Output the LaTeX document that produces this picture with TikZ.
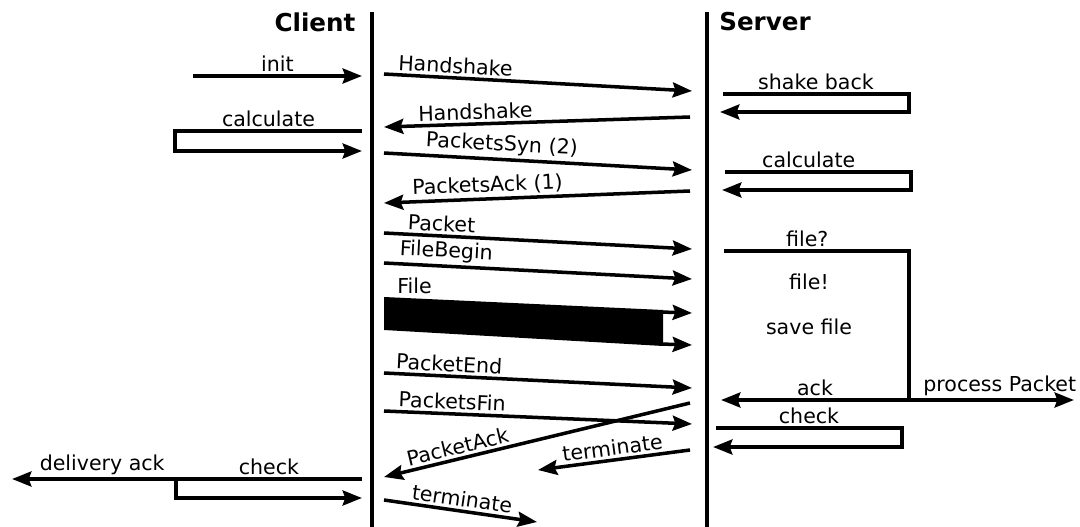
\documentclass[tikz,border=0pt]{standalone}
\usepackage{fontspec}
\setmainfont{DejaVu Sans}
\usepackage{tikz}
\usetikzlibrary{arrows.meta,positioning}

\newcommand{\lblfont}{\fontsize{11.7}{13}\selectfont}
\newcommand{\headfont}{\fontsize{14}{16}\selectfont\bfseries}

\begin{document}
\begin{tikzpicture}[x=0.02cm, y=-0.02cm,
		msg/.style={line width=2pt, -{Stealth[length=11pt,width=8.5pt,inset=1.5pt]}},
		loopline/.style={line width=2pt},
		life/.style={line width=2.8pt},
		lbl/.style={font=\lblfont, inner sep=1.5pt},
		head/.style={font=\headfont, inner sep=0pt}]
	\useasboundingbox (0,0) rectangle (1080,527);

	% lifelines
	\node[head] (client) at (315,22) {Client};
	\node[head] (server) at (765,22) {Server};
	\coordinate (ctop) at (372,12);
	\coordinate (cbot) at (372,530);
	\coordinate (stop) at (707,12);
	\coordinate (sbot) at (707,530);
	\draw[life] (ctop) -- (cbot);
	\draw[life] (stop) -- (sbot);

	% client side, left
	\coordinate (i1) at (193,76);
	\coordinate (i2) at (362,76);
	\draw[msg] (i1) -- node[lbl, above] {init} (i2);

	\coordinate (cc1) at (362,131);
	\coordinate (cc2) at (175,131);
	\coordinate (cc3) at (175,151);
	\coordinate (cc4) at (362,151);
	\draw[msg] (cc1) -- node[lbl, above] {calculate} (cc2) -- (cc3) -- (cc4);

	\coordinate (k1) at (362,479);
	\coordinate (kb) at (176,479);
	\coordinate (k3) at (12,479);
	\coordinate (kc) at (176,498);
	\coordinate (kd) at (362,498);
	\draw[msg] (k1) -- node[lbl, above] {check} (kb) -- node[lbl, above, pos=0.45] {delivery ack} (k3);
	\draw[msg] (kb) -- (kc) -- (kd);

	% messages between client and server
	\coordinate (h1a) at (384,74);
	\coordinate (h1b) at (692,91);
	\draw[msg] (h1a) -- node[lbl, above, sloped, pos=0.23] {Handshake} (h1b);

	\coordinate (h2a) at (690,117);
	\coordinate (h2b) at (384,127);
	\draw[msg] (h2a) -- node[lbl, above, sloped, pos=0.70] {Handshake} (h2b);

	\coordinate (psa) at (384,153);
	\coordinate (psb) at (692,170);
	\draw[msg] (psa) -- node[lbl, above, sloped, pos=0.38] {PacketsSyn (2)} (psb);

	\coordinate (paa) at (690,191);
	\coordinate (pab) at (384,203);
	\draw[msg] (paa) -- node[lbl, above, sloped, pos=0.66] {PacketsAck (1)} (pab);

	\coordinate (pa) at (384,233);
	\coordinate (pb) at (692,249);
	\draw[msg] (pa) -- node[lbl, above, sloped, pos=0.185] {Packet} (pb);

	\coordinate (fba) at (384,263);
	\coordinate (fbb) at (692,279);
	\draw[msg] (fba) -- node[lbl, above, sloped, pos=0.2] {FileBegin} (fbb);

	% the file itself
	\coordinate (fa) at (384,297);
	\coordinate (fb) at (663,310);
	\coordinate (fc) at (663,346);
	\coordinate (fd) at (384,330);
	\fill (fa) -- (fb) -- (fc) -- (fd) -- cycle;
	\node[lbl, anchor=base west, inner sep=0pt] (filelbl) at (397,294) {File};
	\coordinate (fe) at (660,312);
	\coordinate (ff) at (692,313);
	\coordinate (fg) at (660,344);
	\coordinate (fh) at (692,345);
	\draw[msg] (fe) -- (ff);
	\draw[msg] (fg) -- (fh);

	\coordinate (pea) at (384,373);
	\coordinate (peb) at (692,388);
	\draw[msg] (pea) -- node[lbl, above, sloped, pos=0.21] {PacketEnd} (peb);

	\coordinate (pfa) at (384,411);
	\coordinate (pfb) at (692,424);
	\draw[msg] (pfa) -- node[lbl, above, sloped, pos=0.22] {PacketsFin} (pfb);

	\coordinate (aka) at (690,403);
	\coordinate (akb) at (384,477);
	\draw[msg] (aka) -- node[lbl, above, sloped, pos=0.75] {PacketAck} (akb);

	\coordinate (t1a) at (690,450);
	\coordinate (t1b) at (538,470);
	\draw[msg] (t1a) -- node[lbl, above, sloped] {terminate} (t1b);

	\coordinate (t2a) at (384,500);
	\coordinate (t2b) at (537,522);
	\draw[msg] (t2a) -- node[lbl, above, sloped] {terminate} (t2b);

	% server side
	\coordinate (sb1) at (723,94);
	\coordinate (sb2) at (909,94);
	\coordinate (sb3) at (909,112);
	\coordinate (sb4) at (720,112);
	\draw[msg] (sb1) -- node[lbl, above] {shake back} (sb2) -- (sb3) -- (sb4);

	\coordinate (sc1) at (725,172);
	\coordinate (sc2) at (911,172);
	\coordinate (sc3) at (911,190);
	\coordinate (sc4) at (722,190);
	\draw[msg] (sc1) -- node[lbl, above, pos=0.45] {calculate} (sc2) -- (sc3) -- (sc4);

	\coordinate (q1) at (724,251);
	\coordinate (q2) at (909,251);
	\coordinate (q3) at (909,400);
	\coordinate (q4) at (721,400);
	\coordinate (q5) at (1074,400);
	\draw[loopline] (q1) -- node[lbl, above, pos=0.45] {file?} (q2) -- (q3);
	\node[lbl] (fileok) at (809,282) {file!};
	\node[lbl] (save) at (809,327) {save file};
	\draw[msg] (q3) -- node[lbl, above] {ack} (q4);
	\draw[msg] (q3) -- node[lbl, above, pos=0.55] {process Packet} (q5);

	\coordinate (ch1) at (716,428);
	\coordinate (ch2) at (902,428);
	\coordinate (ch3) at (902,447);
	\coordinate (ch4) at (713,447);
	\draw[msg] (ch1) -- node[lbl, above] {check} (ch2) -- (ch3) -- (ch4);
\end{tikzpicture}
\end{document}
